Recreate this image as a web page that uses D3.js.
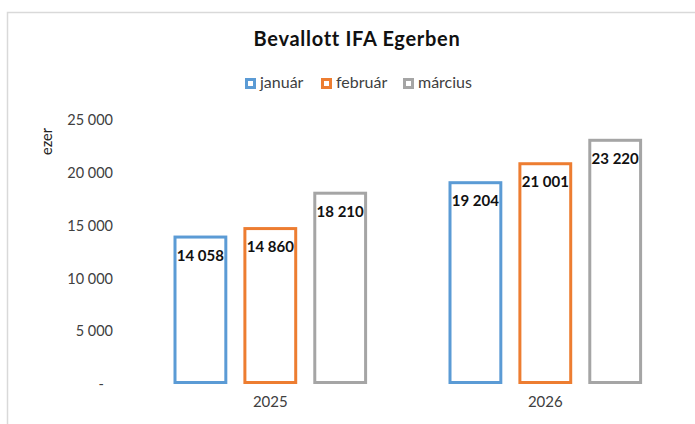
<!DOCTYPE html>
<html>
<head>
<meta charset="utf-8">
<script src="https://cdn.jsdelivr.net/npm/d3@7"></script>
<style>
  body { margin: 0; background: #fff; }
  text { font-family: Lato, "Open Sans", sans-serif; }
</style>
</head>
<body>
<div id="chart"></div>
<script>
// chart data
var years = ["2025", "2026"];
var months = ["január", "február", "március"];
var januar = [14058, 19204];
var februar = [14860, 21001];
var marcius = [18210, 23220];
var yTicks = [0, 5000, 10000, 15000, 20000, 25000];

var colors = ["#5B9BD5", "#ED7D31", "#A5A5A5"];
var series = [januar, februar, marcius];

var svgWidth = 695;
var svgHeight = 424;

var svg = d3.select("#chart")
    .append("svg")
    .attr("width", svgWidth)
    .attr("height", svgHeight);

// outer chart border
svg.append("rect")
    .attr("x", 7.5)
    .attr("y", 12.5)
    .attr("width", 720)
    .attr("height", 440)
    .attr("fill", "none")
    .attr("stroke", "#d9d9d9")
    .attr("stroke-width", 1.5);

// hungarian style number format
var hu = d3.formatLocale({ decimal: ",", thousands: "\u00a0", grouping: [3], currency: ["", ""] });
var fmt = function(v) { return v === 0 ? "-" : hu.format(",")(v); };

// scales
var x0 = d3.scaleBand()
    .domain(years)
    .range([132.8, 682.8])
    .paddingInner(0.296)
    .paddingOuter(0.148);

var x1 = d3.scaleBand()
    .domain(months)
    .range([0, x0.bandwidth()])
    .paddingInner(0.23);

var y = d3.scaleLinear()
    .domain([0, 25000])
    .range([384, 120]);

// title
svg.append("text")
    .attr("x", 357)
    .attr("y", 46)
    .attr("text-anchor", "middle")
    .style("font-size", "20px")
    .style("font-weight", "bold")
    .style("letter-spacing", "0.7px")
    .attr("fill", "#111")
    .text("Bevallott IFA Egerben");

// legend
var legendX = [245, 321, 403];
var legend = svg.append("g");
months.forEach(function(m, i) {
    var g = legend.append("g")
        .attr("transform", "translate(" + legendX[i] + ",78)");
    g.append("rect")
        .attr("x", 1.5)
        .attr("y", 1.5)
        .attr("width", 8)
        .attr("height", 8)
        .attr("fill", "#fff")
        .attr("stroke", colors[i])
        .attr("stroke-width", 3);
    g.append("text")
        .attr("x", 15)
        .attr("y", 10)
        .style("font-size", "16px")
        .attr("fill", "#404040")
        .text(m);
});

// y axis (labels only)
var leftAxis = d3.axisLeft(y)
    .tickValues(yTicks)
    .tickFormat(fmt)
    .tickSize(0)
    .tickPadding(0);

var yAxis = svg.append("g")
    .attr("transform", "translate(113,0)")
    .call(leftAxis);
yAxis.select(".domain").remove();
yAxis.selectAll("text")
    .style("font-family", "Lato, sans-serif")
    .style("font-size", "14.5px")
    .attr("fill", "#404040");
// zero shown as a dash, set in from the right edge
yAxis.selectAll(".tick")
    .filter(function(d) { return d === 0; })
    .select("text")
    .attr("x", -9);

// y axis label
svg.append("text")
    .attr("transform", "rotate(-90)")
    .attr("x", -128)
    .attr("y", 52)
    .attr("text-anchor", "end")
    .style("font-size", "14.5px")
    .attr("fill", "#222")
    .text("ezer");

// x axis (labels only)
var bottomAxis = d3.axisBottom(x0).tickSize(0).tickPadding(0);
var xAxis = svg.append("g")
    .attr("transform", "translate(0,396)")
    .call(bottomAxis);
xAxis.select(".domain").remove();
xAxis.selectAll("text")
    .style("font-family", "Lato, sans-serif")
    .style("font-size", "15px")
    .attr("fill", "#404040");

// bars
var groups = svg.selectAll(".year")
    .data(years)
    .enter()
    .append("g")
    .attr("class", "year")
    .attr("transform", function(d) { return "translate(" + x0(d) + ",0)"; });

groups.selectAll("rect")
    .data(function(d, yi) {
        return months.map(function(m, mi) { return { month: m, value: series[mi][yi], color: colors[mi] }; });
    })
    .enter()
    .append("rect")
    .attr("x", function(d) { return x1(d.month) + 1.5; })
    .attr("y", function(d) { return y(d.value) + 1.5; })
    .attr("width", x1.bandwidth() - 3)
    .attr("height", function(d) { return y(0) - y(d.value) - 3; })
    .attr("fill", "#fff")
    .attr("stroke", function(d) { return d.color; })
    .attr("stroke-width", 3);

// value labels
groups.selectAll(".lbl")
    .data(function(d, yi) {
        return months.map(function(m, mi) { return { month: m, value: series[mi][yi] }; });
    })
    .enter()
    .append("text")
    .attr("class", "lbl")
    .attr("x", function(d) { return x1(d.month) + x1.bandwidth() / 2; })
    .attr("y", function(d) { return y(d.value) + 25; })
    .attr("text-anchor", "middle")
    .style("font-size", "15px")
    .style("font-weight", "bold")
    .attr("fill", "#111")
    .text(function(d) { return fmt(d.value); });
</script>
</body>
</html>
